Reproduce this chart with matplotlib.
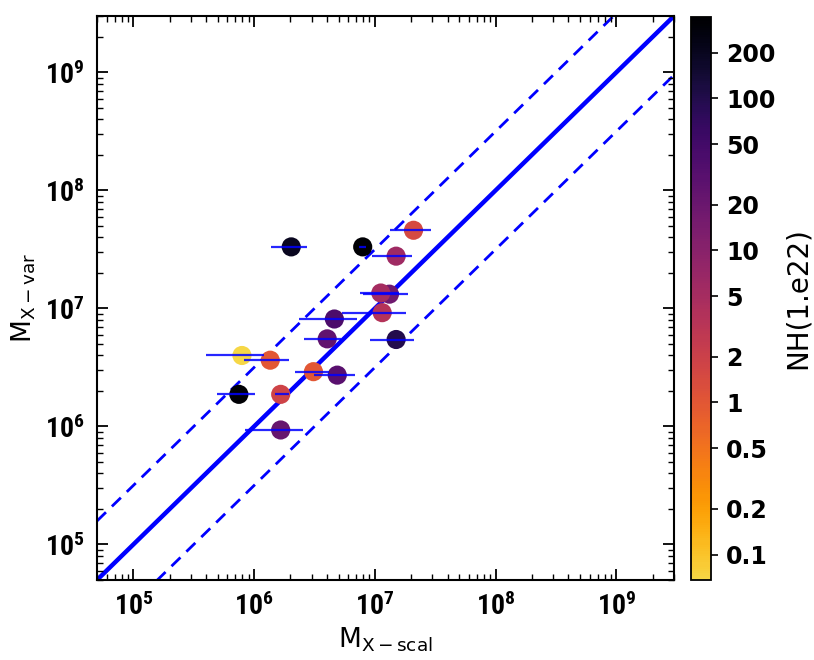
import numpy as np
import matplotlib
matplotlib.use("Agg")
import matplotlib.pyplot as plt
from matplotlib import font_manager as fm
from matplotlib.colors import LogNorm, ListedColormap
from matplotlib.ticker import FuncFormatter, LogLocator, NullFormatter

# ---- data ----
m_scal = [2.03e6, 7.93e6, 2.09e7, 1.50e7, 1.32e7, 1.12e7, 1.15e7, 4.62e6, 4.03e6,
          1.50e7, 7.93e5, 1.36e6, 3.10e6, 4.88e6, 7.48e5, 1.66e6, 1.66e6]
m_scal_lo = [1.37e6, 7.41e6, 1.34e7, 9.5e6, 7.94e6, 7.55e6, 5.36e6, 2.34e6, 2.61e6,
             9.18e6, 4.03e5, 8.24e5, 2.20e6, 3.12e6, 4.93e5, 1.48e6, 8.34e5]
m_scal_hi = [2.73e6, 8.51e6, 2.94e7, 2.03e7, 1.87e7, 1.58e7, 1.81e7, 7.08e6, 5.25e6,
             2.09e7, 1.20e6, 1.94e6, 4.21e6, 6.86e6, 1.02e6, 1.93e6, 2.53e6]
m_var = [3.32e7, 3.32e7, 4.59e7, 2.77e7, 1.32e7, 1.35e7, 9.2e6, 8.13e6, 5.52e6,
         5.45e6, 3.99e6, 3.64e6, 2.91e6, 2.72e6, 1.87e6, 1.87e6, 9.33e5]
nh = [200, 343, 1.5, 6, 18, 5, 3.5, 40, 25, 100, 0.068, 1.0, 1.0, 30, 343, 1.8, 22]

cbar_ticks = [0.1, 0.2, 0.5, 1, 2, 5, 10, 20, 50, 100, 200]
cbar_ticklabels = ["0.1", "0.2", "0.5", "1", "2", "5", "10", "20", "50", "100", "200"]


def has_font(name):
    try:
        fm.findfont(fm.FontProperties(family=name, weight="bold"),
                    fallback_to_default=False)
        return True
    except Exception:
        return False


narrow = next((f for f in ["Liberation Sans Narrow", "DejaVu Sans Condensed",
                           "Roboto Condensed"] if has_font(f)), None)
plt.rcParams["mathtext.fontset"] = "custom"
plt.rcParams["mathtext.rm"] = "DejaVu Sans"
plt.rcParams["mathtext.it"] = "DejaVu Sans:italic"
plt.rcParams["mathtext.sf"] = "DejaVu Sans"
if narrow:
    plt.rcParams["mathtext.bf"] = narrow + ":bold"
    tick_size = 20
else:
    plt.rcParams["mathtext.bf"] = "DejaVu Sans:bold"
    tick_size = 16

x = np.array(m_scal)
y = np.array(m_var)
xerr = np.array([x - np.array(m_scal_lo), np.array(m_scal_hi) - x])

base = plt.get_cmap("inferno")
cmap = ListedColormap(base(np.linspace(0.0, 0.9, 256))[::-1])
norm = LogNorm(vmin=0.068, vmax=343)

fig = plt.figure(figsize=(8.14, 6.6), dpi=100)
ax = fig.add_axes([97/814, 1-580/660, (674-97)/814, (580-16)/660])
cax = fig.add_axes([691/814, 1-580/660, 20/814, (580-17)/660])

lo, hi = 5e4, 3e9
ax.set_xscale("log")
ax.set_yscale("log")
ax.set_xlim(lo, hi)
ax.set_ylim(lo, hi)

ref = np.array([lo, hi])
ax.plot(ref, ref, color="#0000ff", lw=3.2, zorder=1)
ax.plot(ref, ref * 10**0.5, color="#0000ff", lw=2.0, ls=(0, (4.5, 3)), zorder=1)
ax.plot(ref, ref / 10**0.5, color="#0000ff", lw=2.0, ls=(0, (4.5, 3)), zorder=1)

sc = ax.scatter(x, y, c=nh, cmap=cmap, norm=norm, s=190, edgecolors="none", zorder=2)
ax.errorbar(x, y, xerr=xerr, fmt="none", ecolor="#0000ff", elinewidth=1.6,
            capsize=0, alpha=0.85, zorder=3)


def fmt(v, pos):
    e = int(round(np.log10(v)))
    return r"$\mathbf{10^{%d}}$" % e


for axis in (ax.xaxis, ax.yaxis):
    axis.set_major_locator(LogLocator(base=10, numticks=20))
    axis.set_minor_locator(LogLocator(base=10, subs=np.arange(2, 10), numticks=20))
    axis.set_major_formatter(FuncFormatter(fmt))
    axis.set_minor_formatter(NullFormatter())

ax.tick_params(which="both", direction="in", top=True, right=True)
ax.tick_params(which="major", length=8, width=1.3, labelsize=tick_size, pad=9)
ax.tick_params(which="minor", length=4, width=1.0)
for s in ax.spines.values():
    s.set_linewidth(1.5)

ax.set_xlabel(r"M$_{\rm X-scal}$", fontsize=19, labelpad=3)
ax.set_ylabel(r"M$_{\rm X-var}$", fontsize=19, labelpad=5)

cb = fig.colorbar(sc, cax=cax)
cb.set_ticks(cbar_ticks)
cb.set_ticklabels(cbar_ticklabels)
cb.minorticks_off()
cax.tick_params(which="major", length=5, width=1.2, labelsize=17, pad=6)
for lab in cax.get_yticklabels():
    lab.set_fontweight("bold")
cb.outline.set_linewidth(1.3)
cb.set_label("NH(1.e22)", fontsize=20, labelpad=6)

fig.savefig("out.png", dpi=100)
